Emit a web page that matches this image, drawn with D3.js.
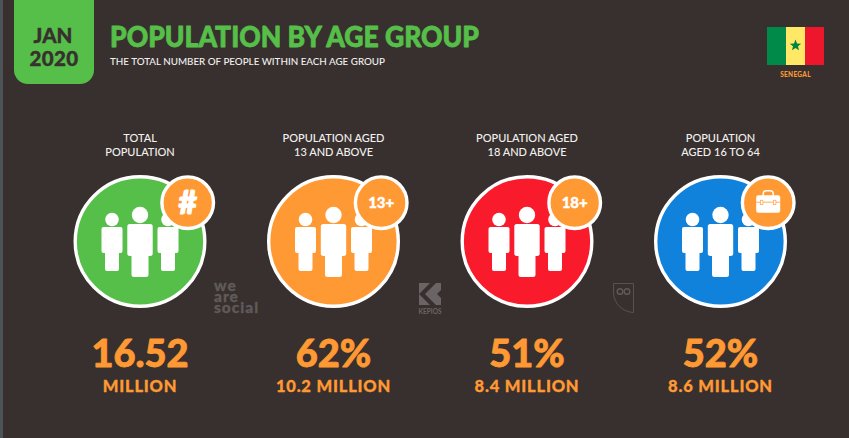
<!DOCTYPE html>
<html>
<head>
<meta charset="utf-8">
<script src="https://cdn.jsdelivr.net/npm/d3@7"></script>
<style>
html, body { margin: 0; padding: 0; background: #38302e; overflow: hidden; }
text { font-family: Lato, "Open Sans", sans-serif; }
</style>
</head>
<body>
<div id="main"></div>
<script>
const ctx = {
    SVG_W: 849,
    SVG_H: 438,
    BG: "#38302e",
    GREEN: "#56bf49",
    ORANGE: "#ff9933",
};

// values
const categories = ["total", "13+", "18+", "16-64"];
const labelLine1 = ["TOTAL", "POPULATION AGED", "POPULATION AGED", "POPULATION"];
const labelLine2 = ["POPULATION", "13 AND ABOVE", "18 AND ABOVE", "AGED 16 TO 64"];
const headlines = ["16.52", "62%", "51%", "52%"];
const sublines = ["MILLION", "10.2 MILLION", "8.4 MILLION", "8.6 MILLION"];
const badges = ["#", "13+", "18+", ""];
const circleColors = ["#56bf49", "#ff9933", "#f91a2b", "#1182db"];
const flagColors = ["#008a4a", "#ffe866", "#ee162d"];

// thickens the text a little, the original face is heavier than Lato
function heavy(sel, color, w) {
    return sel.attr("font-weight", 900).attr("fill", color)
        .attr("stroke", color).attr("stroke-width", w).attr("stroke-linejoin", "round");
}

function drawHeader(svgEl) {
    svgEl.append("rect").attr("width", 3).attr("height", ctx.SVG_H).attr("fill", "#4d5458");

    // green date tab
    svgEl.append("path")
        .attr("d", "M14,0H94V70a14,14 0 0 1 -14,14H28a14,14 0 0 1 -14,-14Z")
        .attr("fill", ctx.GREEN);
    heavy(svgEl.append("text").attr("x", 53).attr("y", 43).attr("text-anchor", "middle")
        .attr("font-size", 20.5), ctx.BG, 0.4).text("JAN");
    heavy(svgEl.append("text").attr("x", 54).attr("y", 66).attr("text-anchor", "middle")
        .attr("font-size", 20.5).attr("letter-spacing", 0.4), ctx.BG, 0.4).text("2020");

    heavy(svgEl.append("text").attr("x", 110).attr("y", 47)
        .attr("font-size", 28)
        .attr("textLength", 369).attr("lengthAdjust", "spacingAndGlyphs"), ctx.GREEN, 0.8)
        .text("POPULATION BY AGE GROUP");
    svgEl.append("text").attr("x", 110).attr("y", 65)
        .attr("font-size", 10).attr("font-weight", 500).attr("fill", "#f2f0ef")
        .attr("textLength", 275).attr("lengthAdjust", "spacingAndGlyphs")
        .text("THE TOTAL NUMBER OF PEOPLE WITHIN EACH AGE GROUP");
}

function drawFlag(svgEl) {
    let flag = svgEl.append("g").attr("transform", "translate(767,27)");
    flag.selectAll("rect")
        .data(flagColors)
        .enter()
        .append("rect")
        .attr("x", (d, i) => i * 19)
        .attr("width", 19)
        .attr("height", 38)
        .attr("fill", d => d);
    let star = d3.range(10).map(i => {
        let r = i % 2 ? 2.6 : 6;
        let a = i * Math.PI / 5;
        return (i ? "L" : "M") + (28.5 + r * Math.sin(a)) + "," + (18.5 - r * Math.cos(a));
    }).join("") + "Z";
    flag.append("path").attr("d", star).attr("fill", "#00853f");
    svgEl.append("text").attr("x", 795.5).attr("y", 77).attr("text-anchor", "middle")
        .attr("font-size", 6.5).attr("font-weight", 900).attr("letter-spacing", 0.3)
        .attr("fill", ctx.ORANGE).text("SENEGAL");
}

function drawLogos(svgEl) {
    let grey = "#5f5a59";
    // we are social, one text with a tspan per line
    let ws = heavy(svgEl.append("text").attr("font-size", 15.5).attr("letter-spacing", 1), grey, 0.3);
    [["we", 291], ["are", 302], ["social", 313]].forEach(d => {
        ws.append("tspan").attr("x", 214).attr("y", d[1]).text(d[0]);
    });
    // kepios mark
    let kep = svgEl.append("g").attr("transform", "translate(419,283)");
    kep.append("rect").attr("width", 22).attr("height", 22).attr("fill", "#6a6564");
    kep.append("path").attr("d", "M11,0H17L6,11L17,22H11L0,11Z M22,7L18,11L22,15Z").attr("fill", ctx.BG);
    svgEl.append("text").attr("x", 430).attr("y", 314).attr("text-anchor", "middle")
        .attr("font-size", 6.5).attr("font-weight", 700).attr("fill", "#6a6564").text("KEPIOS");
    // hootsuite owl
    let owl = svgEl.append("g").attr("transform", "translate(613,283)").attr("fill", "none").attr("stroke", grey);
    owl.append("path").attr("d", "M0.5,0.5H20.5V29.5C10,29 1,21 0.5,10Z").attr("stroke-width", 0.8);
    owl.append("circle").attr("cx", 7).attr("cy", 8.5).attr("r", 2.8).attr("stroke-width", 1.4);
    owl.append("circle").attr("cx", 14).attr("cy", 8.5).attr("r", 2.8).attr("stroke-width", 1.4);
}

function drawPeople(g) {
    // side figures first, the middle one sits on top
    [-28, 28].forEach(dx => {
        let p = g.append("g").attr("transform", "translate(" + dx + ",0)").attr("fill", "#fff");
        p.append("circle").attr("cy", -22.5).attr("r", 6.8);
        p.append("rect").attr("x", -10.5).attr("y", -15).attr("width", 21).attr("height", 26).attr("rx", 2);
        p.append("rect").attr("x", -7).attr("y", 5).attr("width", 14).attr("height", 24).attr("rx", 2);
    });
    let m = g.append("g").attr("fill", "#fff");
    m.append("circle").attr("cy", -27).attr("r", 8.2);
    m.append("rect").attr("x", -12.7).attr("y", -18).attr("width", 25.4).attr("height", 32).attr("rx", 2.5);
    m.append("rect").attr("x", -8.5).attr("y", 8).attr("width", 17).attr("height", 27).attr("rx", 2.5);
}

function drawBriefcase(g) {
    g.append("path").attr("d", "M-5,-7V-9a3,3 0 0 1 3,-3H2a3,3 0 0 1 3,3V-7")
        .attr("fill", "none").attr("stroke", "#fff").attr("stroke-width", 1.4);
    g.append("rect").attr("x", -12).attr("y", -7.5).attr("width", 24).attr("height", 17.5).attr("rx", 2).attr("fill", "#fff");
    g.append("path").attr("d", "M-12,-0.5H12").attr("stroke", ctx.ORANGE).attr("stroke-width", 0.8);
    [-6.5, 6.5].forEach(x => {
        g.append("rect").attr("x", x - 1.2).attr("y", -2.5).attr("width", 2.4).attr("height", 4.5)
            .attr("fill", "#fff").attr("stroke", ctx.ORANGE).attr("stroke-width", 0.6);
    });
}

function drawGroups(svgEl) {
    let x = d3.scalePoint().domain(categories).range([140, 720.5]);

    let groups = svgEl.selectAll("g.group")
        .data(categories)
        .enter()
        .append("g")
        .attr("class", "group")
        .attr("transform", d => "translate(" + x(d) + ",0)");

    groups.append("text").attr("y", 142).attr("text-anchor", "middle")
        .attr("font-size", 11).attr("font-weight", 500).attr("fill", "#f2f0ef")
        .text((d, i) => labelLine1[i]);
    groups.append("text").attr("y", 156).attr("text-anchor", "middle")
        .attr("font-size", 11).attr("font-weight", 500).attr("fill", "#f2f0ef")
        .text((d, i) => labelLine2[i]);

    groups.append("circle").attr("cy", 241.5).attr("r", 64.8)
        .attr("fill", (d, i) => circleColors[i])
        .attr("stroke", "#fff").attr("stroke-width", 3.4);

    groups.each(function (d, i) {
        let g = d3.select(this);
        drawPeople(g.append("g").attr("transform", "translate(0,242)"));
        let badge = g.append("g").attr("transform", "translate(47.7,202.7)");
        badge.append("circle").attr("r", 25.8)
            .attr("fill", ctx.ORANGE).attr("stroke", "#fff").attr("stroke-width", 3.4);
        if (badges[i] === "") {
            drawBriefcase(badge);
        } else {
            heavy(badge.append("text").attr("y", i === 0 ? 11 : 5.5).attr("text-anchor", "middle")
                .attr("font-size", i === 0 ? 32 : 15), "#fff", i === 0 ? 1.2 : 0.4)
                .text(badges[i]);
        }
    });

    heavy(groups.append("text").attr("y", 367).attr("text-anchor", "middle")
        .attr("font-size", 38), ctx.ORANGE, 0.8)
        .text((d, i) => headlines[i]);
    heavy(groups.append("text").attr("y", 392).attr("text-anchor", "middle")
        .attr("font-size", 16.5).attr("letter-spacing", 0.8), ctx.ORANGE, 0.3)
        .text((d, i) => sublines[i]);
}

function createViz() {
    let svgEl = d3.select("#main").append("svg");
    svgEl.attr("width", ctx.SVG_W);
    svgEl.attr("height", ctx.SVG_H);
    svgEl.style("display", "block");
    svgEl.append("rect").attr("width", ctx.SVG_W).attr("height", ctx.SVG_H).attr("fill", ctx.BG);
    drawHeader(svgEl);
    drawFlag(svgEl);
    drawLogos(svgEl);
    drawGroups(svgEl);
}

createViz();
</script>
</body>
</html>
